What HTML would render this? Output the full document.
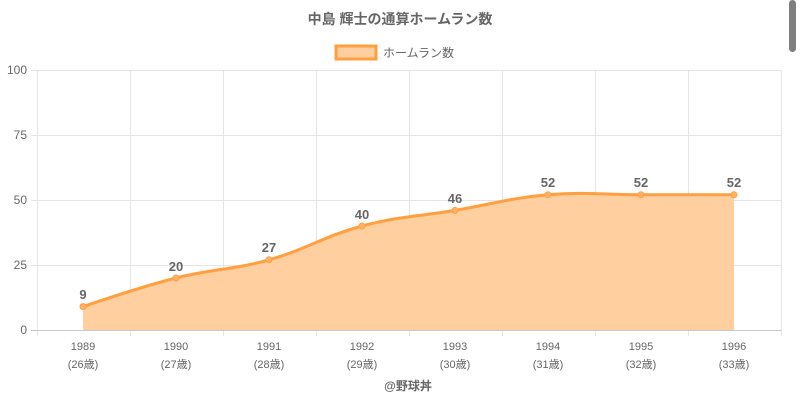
<!DOCTYPE html>
<html><head><meta charset="utf-8"><style>
body{margin:0;background:#fff;width:800px;height:400px;overflow:hidden}
text{font-family:"Liberation Sans","Noto Sans CJK JP",sans-serif}
</style></head><body>
<svg width="800" height="400" viewBox="0 0 800 400">
<rect x="789" y="0" width="7" height="52" rx="3.5" fill="#7f7f7f"/>
<text x="400" y="24" text-anchor="middle" font-size="14" font-weight="bold" fill="#666">中島 輝士の通算ホームラン数</text>
<rect x="336" y="46" width="40" height="13" fill="#ffcf9f" stroke="#ff9f40" stroke-width="3"/>
<text x="383" y="57" font-size="12" fill="#666">ホームラン数</text>
<g stroke="#e5e5e5" stroke-width="1">
<line x1="31" y1="70.5" x2="781" y2="70.5"/>
<line x1="31" y1="135.5" x2="781" y2="135.5"/>
<line x1="31" y1="200.5" x2="781" y2="200.5"/>
<line x1="31" y1="265.5" x2="781" y2="265.5"/>
<line x1="37.5" y1="70" x2="37.5" y2="336"/>
<line x1="130.5" y1="70" x2="130.5" y2="336"/>
<line x1="223.5" y1="70" x2="223.5" y2="336"/>
<line x1="316.5" y1="70" x2="316.5" y2="336"/>
<line x1="409.5" y1="70" x2="409.5" y2="336"/>
<line x1="502.5" y1="70" x2="502.5" y2="336"/>
<line x1="595.5" y1="70" x2="595.5" y2="336"/>
<line x1="688.5" y1="70" x2="688.5" y2="336"/>
<line x1="781.5" y1="70" x2="781.5" y2="336"/>
</g>
<line x1="31" y1="330.5" x2="781" y2="330.5" stroke="#c8c8c8"/>
<g font-size="12" fill="#666" text-anchor="end">
<text x="27" y="74">100</text><text x="27" y="139">75</text><text x="27" y="204">50</text><text x="27" y="269">25</text><text x="27" y="334">0</text>
</g>
<path d="M83,306.6 C83,306.6 138.8,287.36 176,278 C213.2,268.64 231.8,270.2 269,259.8 C306.2,249.4 324.8,235.88 362,226 C399.2,216.12 417.8,216.64 455,210.4 C492.2,204.16 510.8,197.92 548,194.8 C585.2,191.68 603.8,194.8 641,194.8 C678.2,194.8 734,194.8 734,194.8 L734,330 L83,330 Z" fill="#ffcf9f"/>
<path d="M83,306.6 C83,306.6 138.8,287.36 176,278 C213.2,268.64 231.8,270.2 269,259.8 C306.2,249.4 324.8,235.88 362,226 C399.2,216.12 417.8,216.64 455,210.4 C492.2,204.16 510.8,197.92 548,194.8 C585.2,191.68 603.8,194.8 641,194.8 C678.2,194.8 734,194.8 734,194.8" fill="none" stroke="#ff9f40" stroke-width="3"/>
<g fill="#ffb26a" stroke="#ff9f40" stroke-width="1">
<circle cx="83" cy="306.6" r="3"/><circle cx="176" cy="278" r="3"/><circle cx="269" cy="259.8" r="3"/><circle cx="362" cy="226" r="3"/><circle cx="455" cy="210.4" r="3"/><circle cx="548" cy="194.8" r="3"/><circle cx="641" cy="194.8" r="3"/><circle cx="734" cy="194.8" r="3"/>
</g>
<g font-size="13" font-weight="bold" fill="#666" text-anchor="middle">
<text x="83" y="299">9</text><text x="176" y="271">20</text><text x="269" y="252">27</text><text x="362" y="219">40</text><text x="455" y="203">46</text><text x="548" y="187">52</text><text x="641" y="187">52</text><text x="734" y="187">52</text>
</g>
<g font-size="11" fill="#666" text-anchor="middle">
<text x="83" y="350">1989</text><text x="83" y="368">(26歳)</text>
<text x="176" y="350">1990</text><text x="176" y="368">(27歳)</text>
<text x="269" y="350">1991</text><text x="269" y="368">(28歳)</text>
<text x="362" y="350">1992</text><text x="362" y="368">(29歳)</text>
<text x="455" y="350">1993</text><text x="455" y="368">(30歳)</text>
<text x="548" y="350">1994</text><text x="548" y="368">(31歳)</text>
<text x="641" y="350">1995</text><text x="641" y="368">(32歳)</text>
<text x="734" y="350">1996</text><text x="734" y="368">(33歳)</text>
</g>
<text x="408" y="390" font-size="12" font-weight="bold" fill="#666" text-anchor="middle">@野球丼</text>
</svg>
</body></html>
